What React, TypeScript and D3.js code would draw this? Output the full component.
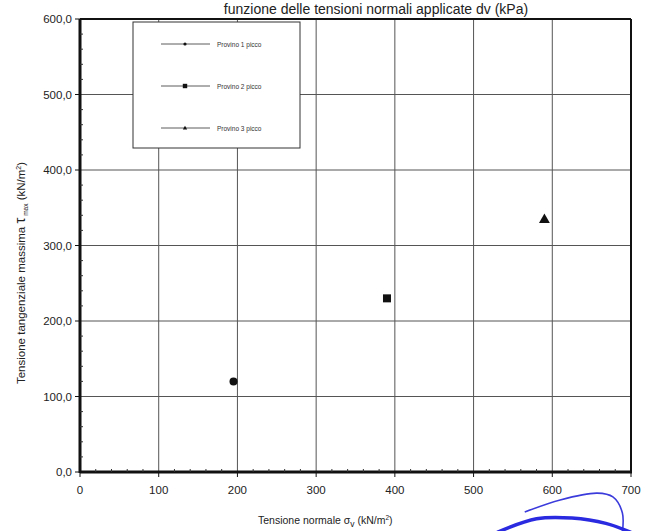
import React from "react";
import * as d3 from "d3";

const series = ["Provino 1 picco", "Provino 2 picco", "Provino 3 picco"];
const sigmaV = [195, 390, 590];
const tauMax = [120, 230, 335];
const symbols = ["circle", "square", "triangle"];
const xTicks = [0, 100, 200, 300, 400, 500, 600, 700];
const yTicks = [0, 100, 200, 300, 400, 500, 600];
const minorStep = 20;
// hand-drawn pen marks below the axis (in data units)
const penThinX = [565, 610, 657, 677, 689, 689];
const penThinY = [-53, -37, -28, -33, -54, -80];
const penThickX = [530, 580, 625, 668, 700];
const penThickY = [-80, -62, -61, -68, -80];

export default function App() {
  const W = 657, H = 531;
  const left = 80, right = 631, top = 19, bottom = 472;
  const x = d3.scaleLinear().domain([0, 700]).range([left, right]);
  const y = d3.scaleLinear().domain([0, 600]).range([bottom, top]);
  const minorX = d3.range(0, 701, minorStep).filter((v) => v % 100 !== 0);
  const minorY = d3.range(0, 601, minorStep).filter((v) => v % 100 !== 0);
  const fmtY = (v: number) => v.toFixed(1).replace(".", ",");
  const line = d3.line<number>().curve(d3.curveCatmullRom);
  const thin = line(penThinX.map((v, i) => [x(v), y(penThinY[i])] as any) as any);
  const thick = line(penThickX.map((v, i) => [x(v), y(penThickY[i])] as any) as any);

  const marker = (kind: string, cx: number, cy: number, s: number) => {
    if (kind === "circle") return <circle cx={cx} cy={cy} r={s} fill="#111" />;
    if (kind === "square")
      return <rect x={cx - s} y={cy - s} width={2 * s} height={2 * s} fill="#111" />;
    const sym = d3.symbol(d3.symbolTriangle, s * s * 3.2)();
    return <path d={sym as string} transform={`translate(${cx},${cy + s * 0.2})`} fill="#111" />;
  };

  const legX = 133, legY = 22, legW = 167, legH = 126;
  const font = "Liberation Sans, Arial, sans-serif";

  return (
    <svg width={W} height={H} style={{ position: "absolute", left: 0, top: 0, background: "#fff" }} fontFamily={font}>
      <rect width={W} height={H} fill="#fff" />
      {/* grid */}
      {xTicks.slice(1, -1).map((v) => (
        <line key={"gx" + v} x1={x(v)} x2={x(v)} y1={top} y2={bottom} stroke="#555" strokeWidth={1} />
      ))}
      {yTicks.slice(1, -1).map((v) => (
        <line key={"gy" + v} x1={left} x2={right} y1={y(v)} y2={y(v)} stroke="#555" strokeWidth={1} />
      ))}
      {/* frame */}
      <line x1={left} x2={right} y1={top} y2={top} stroke="#111" strokeWidth={2} />
      <line x1={right} x2={right} y1={top} y2={bottom} stroke="#111" strokeWidth={2} />
      <line x1={left} x2={left} y1={top} y2={bottom + 1} stroke="#111" strokeWidth={3} />
      <line x1={left} x2={right + 1} y1={bottom} y2={bottom} stroke="#111" strokeWidth={3} />
      {/* ticks */}
      {yTicks.map((v) => (
        <line key={"ty" + v} x1={left - 5} x2={left} y1={y(v)} y2={y(v)} stroke="#111" strokeWidth={1} />
      ))}
      {minorY.map((v) => (
        <line key={"my" + v} x1={left} x2={left + 3} y1={y(v)} y2={y(v)} stroke="#333" strokeWidth={1} />
      ))}
      {xTicks.map((v) => (
        <line key={"tx" + v} x1={x(v)} x2={x(v)} y1={bottom} y2={bottom + 5} stroke="#111" strokeWidth={1} />
      ))}
      {minorX.map((v) => (
        <line key={"mx" + v} x1={x(v)} x2={x(v)} y1={bottom - 3} y2={bottom} stroke="#333" strokeWidth={1} />
      ))}
      {yTicks.map((v) => (
        <text key={"ly" + v} x={left - 8} y={y(v) + 4} textAnchor="end" fontSize={11.5} fill="#222">
          {fmtY(v)}
        </text>
      ))}
      {xTicks.map((v) => (
        <text key={"lx" + v} x={x(v)} y={bottom + 22} textAnchor="middle" fontSize={11.5} fill="#222">
          {v}
        </text>
      ))}
      {/* title */}
      <text x={376} y={14} textAnchor="middle" fontSize={14} fill="#222">
        funzione delle tensioni normali applicate dv (kPa)
      </text>
      {/* axis titles */}
      <text x={258} y={524} fontSize={10.5} fill="#222">
        Tensione normale σ<tspan fontSize={8.5} dy={3}>v</tspan>
        <tspan dy={-3}> (kN/m</tspan>
        <tspan fontSize={6.5} dy={-4}>2</tspan>
        <tspan dy={4}>)</tspan>
      </text>
      <text transform="translate(25,273) rotate(-90)" textAnchor="middle" fontSize={11.5} fill="#222">
        Tensione tangenziale massima <tspan fontSize={15}>τ</tspan>
        <tspan fontSize={6.5} dy={3}> max</tspan>
        <tspan dy={-3}>  (kN/m</tspan>
        <tspan fontSize={7} dy={-4}>2</tspan>
        <tspan dy={4}>)</tspan>
      </text>
      {/* legend */}
      <rect x={legX} y={legY} width={legW} height={legH} fill="#fff" stroke="#333" strokeWidth={1} />
      {series.map((s, i) => {
        const ly = legY + 22 + i * 42;
        return (
          <g key={s}>
            <line x1={legX + 28} x2={legX + 77} y1={ly} y2={ly} stroke="#333" strokeWidth={0.8} />
            {marker(symbols[i], legX + 52, ly, i === 1 ? 2.2 : 1.6)}
            <text x={legX + 84} y={ly + 2.5} fontSize={6.5} fill="#333">{s}</text>
          </g>
        );
      })}
      {/* data */}
      {sigmaV.map((v, i) => (
        <g key={"p" + i}>{marker(symbols[i], x(v), y(tauMax[i]), 4)}</g>
      ))}
      {/* pen marks */}
      <path d={thin as string} fill="none" stroke="#3b3bdc" strokeWidth={1.6} />
      <path d={thick as string} fill="none" stroke="#2a2ae0" strokeWidth={3.5} />
    </svg>
  );
}
